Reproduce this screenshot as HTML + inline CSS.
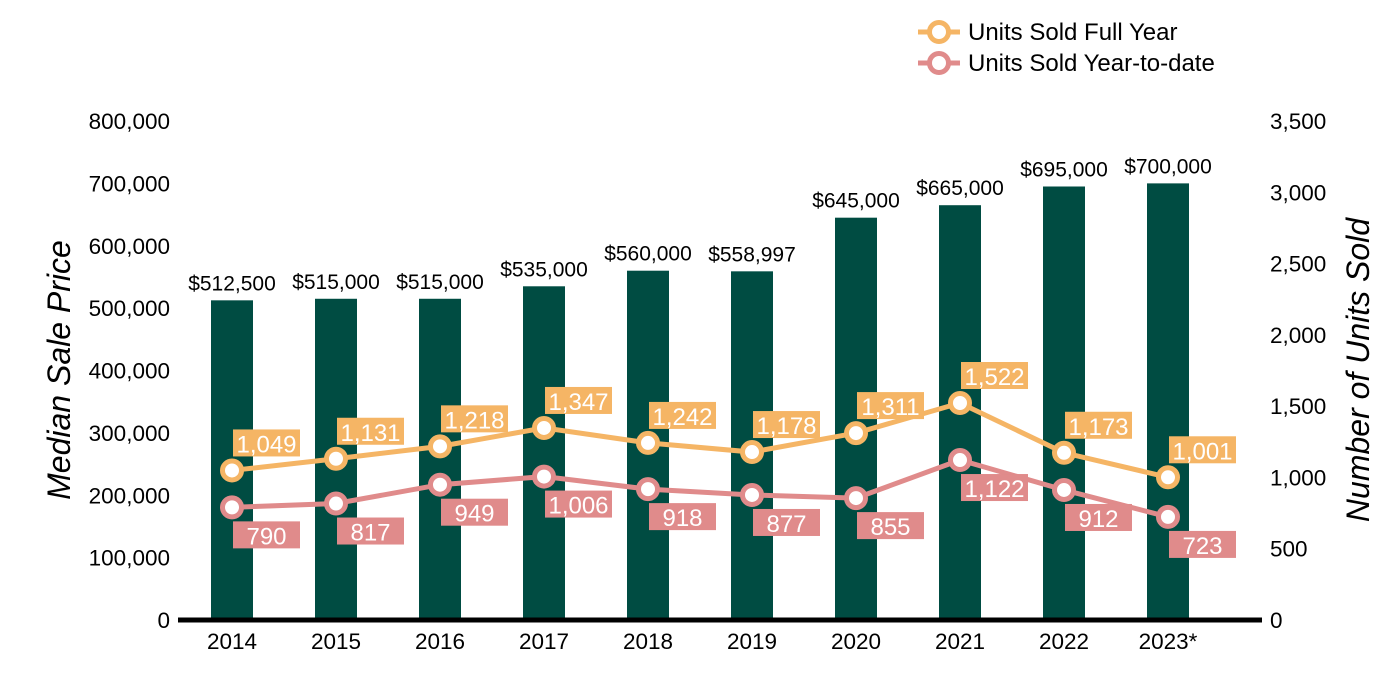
<!DOCTYPE html>
<html><head><meta charset="utf-8"><style>
body{margin:0;background:#fff;}
svg{display:block;font-family:"Liberation Sans",sans-serif;}
</style></head><body>
<svg id="chart" width="1400" height="700">
<g id="g"></g>
</svg>
<script>
const years=["2014","2015","2016","2017","2018","2019","2020","2021","2022","2023*"];
const prices=[512500,515000,515000,535000,560000,558997,645000,665000,695000,700000];
const priceLabels=["$512,500","$515,000","$515,000","$535,000","$560,000","$558,997","$645,000","$665,000","$695,000","$700,000"];
const fullYear=[1049,1131,1218,1347,1242,1178,1311,1522,1173,1001];
const ytd=[790,817,949,1006,918,877,855,1122,912,723];
const leftTicks=[0,100000,200000,300000,400000,500000,600000,700000,800000];
const rightTicks=[0,500,1000,1500,2000,2500,3000,3500];
const NS="http://www.w3.org/2000/svg";
const g=document.getElementById('g');
const y0=620,yTop=121;
const yL=v=>y0-v/800000*(y0-yTop);
const yR=v=>y0-v/3500*(y0-yTop);
const xC=i=>232+i*104;
const fmt=v=>v.toLocaleString('en-US');
function el(t,a,txt){const e=document.createElementNS(NS,t);for(const k in a)e.setAttribute(k,a[k]);if(txt!==undefined)e.textContent=txt;g.appendChild(e);return e;}
leftTicks.forEach(v=>{const e=el('text',{x:170,y:yL(v)+8,'text-anchor':'end','font-size':22.5,fill:'#000'},fmt(v));

});
rightTicks.forEach(v=>{const e=el('text',{x:1270,y:yR(v)+8,'text-anchor':'start','font-size':22.5,fill:'#000'},fmt(v));

});
let t=el('text',{x:0,y:0,transform:'translate(70,370) rotate(-90)','text-anchor':'middle','font-size':32,'font-style':'italic'},'Median Sale Price');


t=el('text',{x:0,y:0,transform:'translate(1369,370) rotate(-90)','text-anchor':'middle','font-size':32,'font-style':'italic'},'Number of Units Sold');


years.forEach((yr,i)=>{
 const b=el('rect',{x:xC(i)-21,y:yL(prices[i]),width:42,height:y0-yL(prices[i]),fill:'#004c42'});
 
 
 const l=el('text',{x:xC(i),y:yL(prices[i])-10,'text-anchor':'middle','font-size':21},priceLabels[i]);
 
 
 const x=el('text',{x:xC(i),y:649,'text-anchor':'middle','font-size':22.5},yr);
 
 
});
const ax=el('line',{x1:178,x2:1262,y1:y0,y2:y0,stroke:'#000','stroke-width':5});


function series(arr,color,name,above){
 const pts=arr.map((v,i)=>xC(i)+','+yR(v)).join(' ');
 const p=el('polyline',{points:pts,fill:'none',stroke:color,'stroke-width':5});
 
 
 arr.forEach((v,i)=>{
  const c=el('circle',{cx:xC(i),cy:yR(v),r:9.5,fill:'#fff',stroke:color,'stroke-width':5});
  
  
 });
 arr.forEach((v,i)=>{
  const s=fmt(v);const w=67;
  const top=above?yR(v)-41:yR(v)+14;
  const r=el('rect',{x:xC(i)+1,y:top,width:w,height:27,fill:color});
  
  
  const tx=el('text',{x:xC(i)+1+w/2,y:top+23,'text-anchor':'middle','font-size':24,fill:'#fff'},s);
  
  
 });
}
series(fullYear,'#f5b565','full-year',true);
series(ytd,'#e08b8b','ytd',false);
[['Units Sold Full Year','#f5b565',32],['Units Sold Year-to-date','#e08b8b',63]].forEach(([n,c,y])=>{
 const l=el('line',{x1:918,x2:960,y1:y,y2:y,stroke:c,'stroke-width':5});
 
 
 const m=el('circle',{cx:939,cy:y,r:9.5,fill:'#fff',stroke:c,'stroke-width':5});
 
 
 const t=el('text',{x:968,y:y+8,'font-size':24},n);
 
 
});
</script>
</body></html>
